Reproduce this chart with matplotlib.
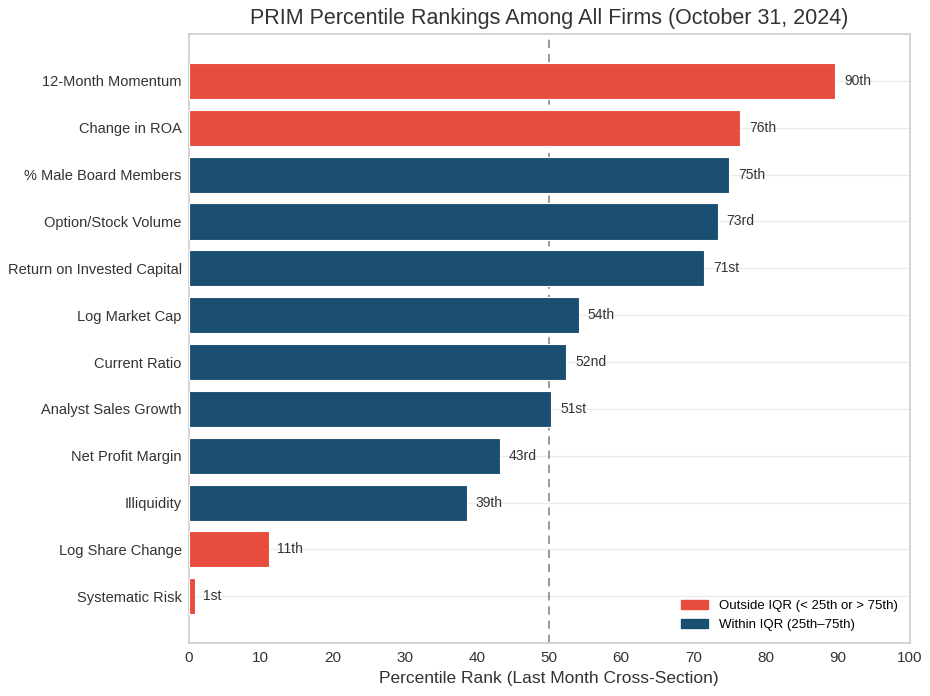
import numpy as np
import matplotlib
matplotlib.use("Agg")
import matplotlib.pyplot as plt
from matplotlib.patches import Patch

# -------------------------------
# Data
# -------------------------------
factors = ["12-Month Momentum", "Change in ROA", "% Male Board Members",
           "Option/Stock Volume", "Return on Invested Capital", "Log Market Cap",
           "Current Ratio", "Analyst Sales Growth", "Net Profit Margin",
           "Illiquidity", "Log Share Change", "Systematic Risk"]
percentiles = [89.7, 76.5, 75.0, 73.4, 71.5, 54.1, 52.4, 50.3, 43.2, 38.6, 11.1, 0.8]
rank_labels = ["90th", "76th", "75th", "73rd", "71st", "54th",
               "52nd", "51st", "43rd", "39th", "11th", "1st"]

RED = "#e74c3c"
BLUE = "#1b4f72"

plt.rcParams['font.family'] = ['Liberation Sans', 'DejaVu Sans']

colors = [RED if (p < 25 or p > 75.2) else BLUE for p in percentiles]

fig = plt.figure(figsize=(9.3, 6.96), dpi=100)
ax = fig.add_axes([0.203, 0.076, 0.775, 0.875])

ypos = np.arange(len(factors))[::-1]
ax.barh(ypos, percentiles, height=0.77, color=colors, edgecolor="white",
        linewidth=0.8, zorder=3)

for y, p, lab in zip(ypos, percentiles, rank_labels):
    ax.text(p + 1.2, y, lab, va="center", ha="left", fontsize=10, color="#333333", zorder=4)

# median line, behind the bars
ax.axvline(50, color="#888888", linestyle=(0, (5, 3.5)), linewidth=1.2, zorder=2)

ax.set_xlim(0, 100)
ax.set_ylim(-1.0, 12.0)
ax.set_xticks(np.arange(0, 101, 10))
ax.set_yticks(ypos)
ax.set_yticklabels(factors)
ax.tick_params(axis="y", length=0, labelsize=10.5, colors="#333333", pad=5)
ax.tick_params(axis="x", length=0, labelsize=11, colors="#333333", pad=6)
ax.grid(axis="y", color="#ebebeb", linewidth=1, zorder=0)
for s in ax.spines.values():
    s.set_color("#cccccc")
    s.set_linewidth(1.2)

ax.set_xlabel("Percentile Rank (Last Month Cross-Section)", fontsize=12.5, color="#333333", labelpad=4)
ax.set_title("PRIM Percentile Rankings Among All Firms (October 31, 2024)", fontsize=15.5,
             color="#333333", pad=7)

handles = [Patch(color=RED, label="Outside IQR (< 25th or > 75th)"),
           Patch(color=BLUE, label="Within IQR (25th\u201375th)")]
ax.legend(handles=handles, loc="lower right", fontsize=9.5, frameon=False,
          handlelength=2.1, handleheight=0.7, handletextpad=0.8,
          labelspacing=0.5, borderaxespad=0.5)

fig.savefig("out.png", dpi=100)
